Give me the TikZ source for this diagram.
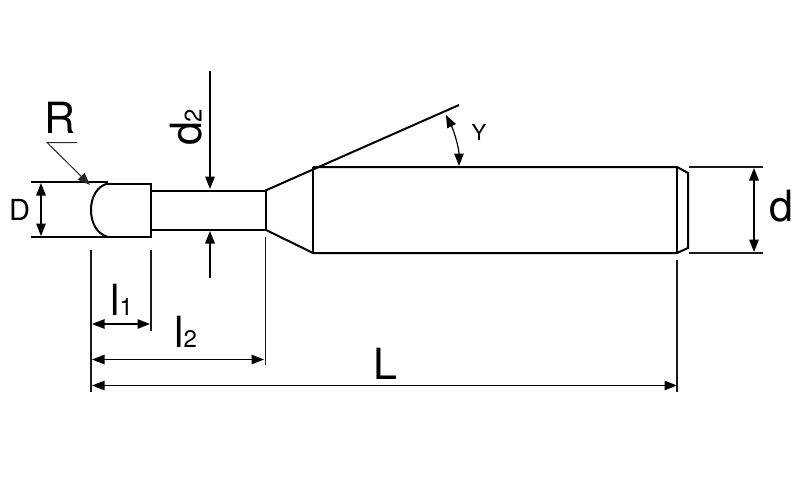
\documentclass[tikz,border=0pt]{standalone}
\usepackage{fontspec}
\setmainfont{TeX Gyre Heros}
\usetikzlibrary{arrows.meta}
\newcommand{\fsz}[1]{\fontsize{#1}{#1}\selectfont}
\tikzset{
  x=1pt,y=-1pt,
  outline/.style={line width=2pt,black,line join=miter},
  heavy/.style={line width=2.8pt,black},
  extline/.style={line width=1.5pt,black!90},
  thinline/.style={line width=1pt,black!85},
  dim/.style={line width=1.2pt,black,{Triangle[length=12.5pt,width=9.5pt]}-{Triangle[length=12.5pt,width=9.5pt]}},
  dimone/.style={line width=1.5pt,black,-{Triangle[length=12.5pt,width=9.5pt]}},
  lab/.style={inner sep=0pt,outer sep=0pt,text=black},
}
\begin{document}
\begin{tikzpicture}
\useasboundingbox (0,0) rectangle (800,500);
% key points
\coordinate (tipTL) at (31,181.7);
\coordinate (tipTR) at (108,181.7);
\coordinate (bodyT) at (108,183.5);
\coordinate (tipBL) at (31,237);
\coordinate (tipBR) at (151,237);
\coordinate (shT) at (151,183.5);
\coordinate (neckT0) at (151,190.5);
\coordinate (neckT1) at (265.5,190.5);
\coordinate (neckB0) at (151,229.7);
\coordinate (neckB1) at (265.5,229.7);
\coordinate (coneT) at (313,167);
\coordinate (coneB) at (313,253);
\coordinate (endT) at (677,167);
\coordinate (endB) at (677,253);
\coordinate (chT) at (688,173);
\coordinate (chB) at (688,248);
\coordinate (angEnd) at (459,105);
% outline
\draw[outline] (tipTL) -- (tipTR);
\draw[outline] (bodyT) -- (shT) -- (tipBR) -- (tipBL);
\draw[outline] (bodyT) .. controls (97,186) and (91,197) .. (91,210) .. controls (91,223) and (97,234) .. (108,237);
\draw[outline] (neckT0) -- (neckT1) -- (neckB1) -- (neckB0);
\draw[outline] (neckB1) -- (coneB) -- (endB) -- (chB) -- (chT) -- (endT) -- (coneT);
\draw[outline] (neckT1) -- (angEnd);
\draw[heavy] (coneT) -- (coneB);
\draw[outline] (endT) -- (endB);
% extension lines
\coordinate (e1a) at (91,250); \coordinate (e1b) at (91,392);
\coordinate (e2a) at (151,250); \coordinate (e2b) at (151,331);
\coordinate (e3a) at (265.5,237); \coordinate (e3b) at (265.5,365);
\coordinate (e4a) at (677,260); \coordinate (e4b) at (677,392);
\coordinate (e5a) at (689,167); \coordinate (e5b) at (763,167);
\coordinate (e6a) at (689,253); \coordinate (e6b) at (763,253);
\draw[extline] (e1a) -- (e1b);
\draw[extline] (e2a) -- (e2b);
\draw[extline] (e3a) -- (e3b);
\draw[extline] (e4a) -- (e4b);
\draw[extline] (e5a) -- (e5b);
\draw[extline] (e6a) -- (e6b);
% dimensions
\coordinate (dA) at (754,168); \coordinate (dB) at (754,252);
\draw[dim,line width=1.6pt] (dA) -- (dB);
\coordinate (DA) at (41,183); \coordinate (DB) at (41,236);
\draw[dim] (DA) -- (DB);
\coordinate (a1a) at (92,324); \coordinate (a1b) at (150,324);
\draw[dim] (a1a) -- (a1b);
\coordinate (a2a) at (92,359.5); \coordinate (a2b) at (264,359.5);
\draw[dim] (a2a) -- (a2b);
\coordinate (a3a) at (92,385.5); \coordinate (a3b) at (677,385.5);
\draw[dim] (a3a) -- (a3b);
\coordinate (d2a) at (210,71); \coordinate (d2b) at (210,189);
\draw[dimone] (d2a) -- (d2b);
\coordinate (d2c) at (210,278); \coordinate (d2d) at (210,231);
\draw[dimone] (d2c) -- (d2d);
% R leader
\coordinate (Ra) at (77,142.5); \coordinate (Rb) at (47,142.5); \coordinate (Rc) at (90,185);
\draw[thinline,-{Triangle[length=12.5pt,width=9.5pt]}] (Ra) -- (Rb) -- (Rc);
% angle
\coordinate (ya) at (446,115); \coordinate (yb) at (459,166);
\draw[dim] (ya) .. controls (454,131) and (459,148) .. (yb);
% labels
\node[lab,anchor=base] (labR) at (60.5,134) {\fsz{43}R};
\node[lab,anchor=base] (labDD) at (19.5,220) {\fsz{29}D};
\node[lab,anchor=base] (labd) at (781,221) {\fsz{43}d};
\node[lab,anchor=base west,rotate=90] (labd2) at (201.5,146) {\fsz{43}d\fsz{24}2};
\node[lab,anchor=base west] (labl1) at (110,315.5) {\fsz{43}l\fsz{24}1};
\node[lab,anchor=base west] (labl2) at (174,347.5) {\fsz{43}l\fsz{24}2};
\node[lab,anchor=base] (labL) at (385,379) {\fsz{43}L};
\node[lab,anchor=base] (labY) at (479,141) {\fsz{22}Y};
\end{tikzpicture}
\end{document}
